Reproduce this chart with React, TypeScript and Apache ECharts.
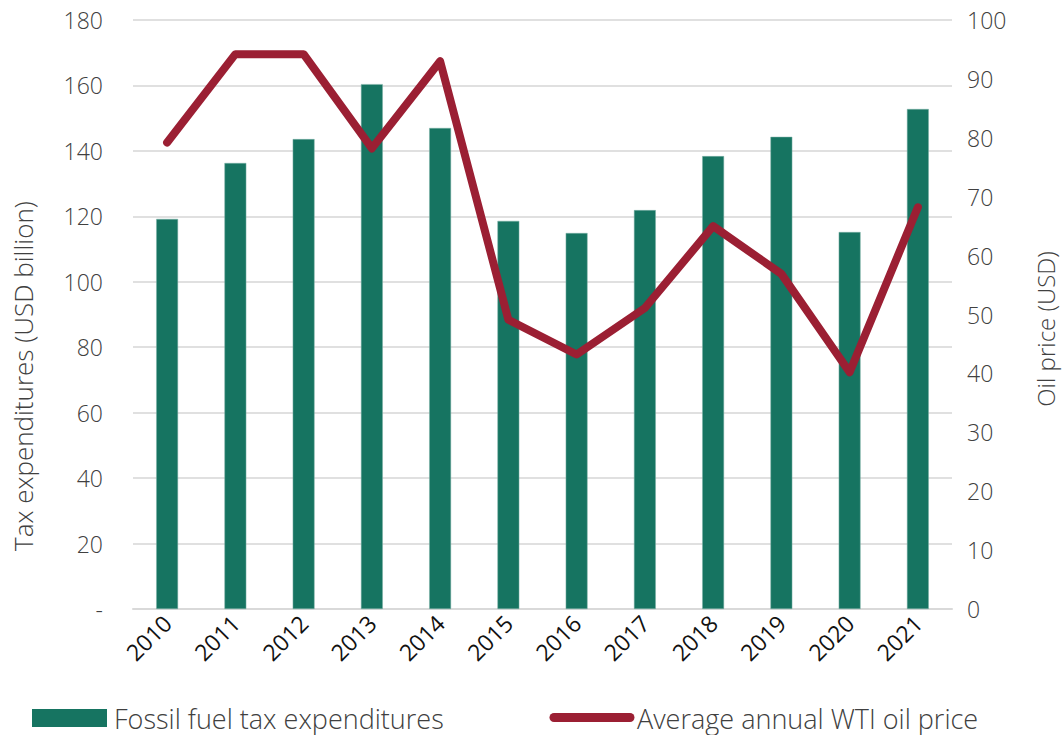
import React, { useEffect, useRef } from "react";
import * as echarts from "echarts";

const years = ["2010", "2011", "2012", "2013", "2014", "2015", "2016", "2017", "2018", "2019", "2020", "2021"];
const taxExpenditures = [119.2, 136.3, 143.6, 160.4, 147, 118.6, 114.9, 121.9, 138.4, 144.3, 115.2, 152.8];
const oilPrice = [79.2, 94.2, 94.2, 78.2, 93.0, 49.1, 43.2, 51.1, 65.0, 56.9, 40.2, 68.2];
const barName = "Fossil fuel tax expenditures";
const lineName = "Average annual WTI oil price";
const leftAxisName = "Tax expenditures (USD billion)";
const rightAxisName = "Oil price (USD)";

const FONT = "Open Sans";
const WEIGHT = 300;
const GREEN = "#167461";
const RED = "#9B1F33";
const TEXT = "#404040";

export default function App() {
  const ref = useRef<HTMLDivElement>(null);
  useEffect(() => {
    if (!ref.current) return;
    const chart = echarts.init(ref.current, undefined, { renderer: "svg" });
    chart.setOption({
      animation: false,
      textStyle: { fontFamily: FONT, fontWeight: WEIGHT },
      grid: { left: 133, right: 112, top: 20, bottom: 126 },
      graphic: [
        { type: "rect", shape: { x: 32, y: 709, width: 75, height: 18 }, style: { fill: GREEN } },
        {
          type: "text",
          x: 114,
          y: 718,
          style: { text: barName, fill: TEXT, font: `${WEIGHT} 27px "${FONT}"`, verticalAlign: "middle" },
        },
        {
          type: "line",
          shape: { x1: 554, y1: 717.5, x2: 630, y2: 717.5 },
          style: { stroke: RED, lineWidth: 9, lineCap: "round" },
        },
        {
          type: "text",
          x: 637,
          y: 718,
          style: { text: lineName, fill: TEXT, font: `${WEIGHT} 27px "${FONT}"`, verticalAlign: "middle" },
        },
        {
          type: "text",
          x: 23,
          y: 376,
          rotation: Math.PI / 2,
          style: {
            text: leftAxisName,
            fill: TEXT,
            font: `${WEIGHT} 26px "${FONT}"`,
            align: "center",
            verticalAlign: "middle",
          },
        },
        {
          type: "text",
          x: 1045,
          y: 329,
          rotation: Math.PI / 2,
          style: {
            text: rightAxisName,
            fill: TEXT,
            font: `${WEIGHT} 24px "${FONT}"`,
            align: "center",
            verticalAlign: "middle",
          },
        },
      ],
      xAxis: {
        type: "category",
        data: years,
        axisLine: { lineStyle: { color: "#d9d9d9", width: 2 } },
        axisTick: { show: false },
        axisLabel: { rotate: 45, fontSize: 23, color: "#111", margin: 10, fontFamily: FONT, fontWeight: 400 },
      },
      yAxis: [
        {
          type: "value",
          min: 0,
          max: 180,
          interval: 20,
          axisLabel: {
            fontSize: 23,
            color: TEXT,
            margin: 30,
            fontFamily: FONT,
            fontWeight: WEIGHT,
            formatter: (v: number) => (v === 0 ? "-" : String(v)),
          },
          splitLine: { lineStyle: { color: "#e0e0e0", width: 2 } },
          axisLine: { show: false },
          axisTick: { show: false },
        },
        {
          type: "value",
          min: 0,
          max: 100,
          interval: 10,
          position: "right",
          axisLabel: { fontSize: 23, color: TEXT, margin: 15, fontFamily: FONT, fontWeight: WEIGHT },
          splitLine: { show: false },
          axisLine: { show: false },
          axisTick: { show: false },
        },
      ],
      series: [
        {
          name: barName,
          type: "bar",
          data: taxExpenditures,
          barWidth: "32%",
          itemStyle: { color: GREEN, borderColor: "#7fb3a8", borderWidth: 0.5 },
        },
        {
          name: lineName,
          type: "line",
          yAxisIndex: 1,
          data: oilPrice,
          symbol: "none",
          lineStyle: { color: RED, width: 8, cap: "round", join: "round" },
          itemStyle: { color: RED },
        },
      ],
    });
    return () => chart.dispose();
  }, []);
  return <div ref={ref} style={{ width: 1064, height: 735, position: "absolute", left: 0, top: 0 }} />;
}
